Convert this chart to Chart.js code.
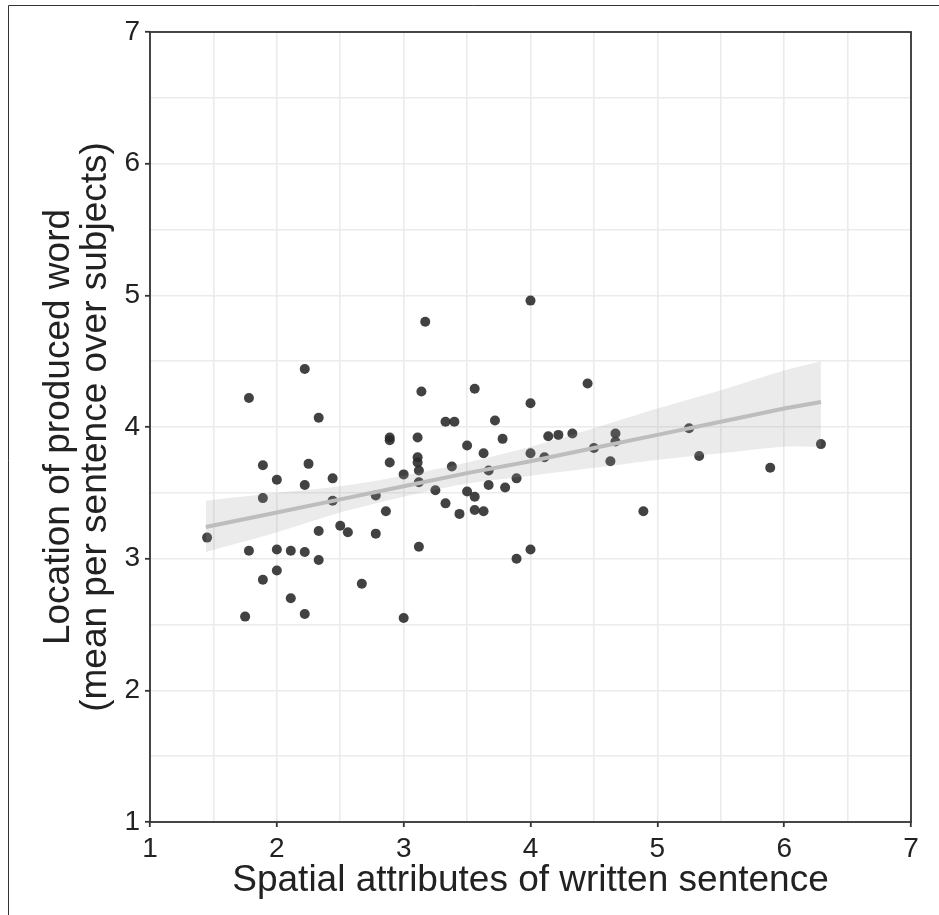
<!DOCTYPE html>
<html>
<head>
<meta charset="utf-8">
<title>Spatial attributes vs location of produced word</title>
<script src="https://cdn.jsdelivr.net/npm/chart.js@4/dist/chart.umd.min.js"></script>
<style>
  html, body { margin: 0; padding: 0; background: #fff; }
  canvas { display: block; }
</style>
</head>
<body>
<canvas id="scatterChart" width="939" height="915"></canvas>
<script>
var spatialX = [1.45, 1.75, 1.78, 1.78, 1.89, 1.89, 1.89, 2.00, 2.00, 2.00,
                2.11, 2.11, 2.22, 2.22, 2.22, 2.22, 2.25, 2.33, 2.33, 2.33,
                2.44, 2.44, 2.50, 2.56, 2.67, 2.78, 2.78, 2.86, 2.89, 2.89,
                2.89, 3.00, 3.00, 3.11, 3.11, 3.11, 3.12, 3.12, 3.12, 3.14,
                3.17, 3.25, 3.33, 3.33, 3.38, 3.40, 3.44, 3.50, 3.50, 3.56,
                3.56, 3.56, 3.63, 3.63, 3.67, 3.67, 3.72, 3.78, 3.80, 3.89,
                3.89, 4.00, 4.00, 4.00, 4.00, 4.11, 4.14, 4.22, 4.33, 4.45,
                4.50, 4.63, 4.67, 4.67, 4.89, 5.25, 5.33, 5.89, 6.29];
var locationY = [3.16, 2.56, 4.22, 3.06, 3.71, 3.46, 2.84, 3.60, 3.07, 2.91,
                 3.06, 2.70, 4.44, 3.56, 3.05, 2.58, 3.72, 4.07, 3.21, 2.99,
                 3.61, 3.44, 3.25, 3.20, 2.81, 3.48, 3.19, 3.36, 3.92, 3.90,
                 3.73, 3.64, 2.55, 3.92, 3.77, 3.73, 3.67, 3.58, 3.09, 4.27,
                 4.80, 3.52, 4.04, 3.42, 3.70, 4.04, 3.34, 3.86, 3.51, 4.29,
                 3.47, 3.37, 3.80, 3.36, 3.67, 3.56, 4.05, 3.91, 3.54, 3.61,
                 3.00, 4.96, 4.18, 3.80, 3.07, 3.77, 3.93, 3.94, 3.95, 4.33,
                 3.84, 3.74, 3.95, 3.89, 3.36, 3.99, 3.78, 3.69, 3.87];

// fitted line and confidence band
var fitX     = [1.44, 2.0, 2.5, 3.0, 3.5, 4.0, 4.5, 5.0, 5.5, 6.0, 6.29];
var fitY     = [3.24, 3.35, 3.45, 3.55, 3.65, 3.74, 3.84, 3.94, 4.04, 4.14, 4.19];
var bandHigh = [3.44, 3.50, 3.55, 3.63, 3.73, 3.85, 3.99, 4.14, 4.28, 4.43, 4.50];
var bandLow  = [3.05, 3.20, 3.35, 3.47, 3.57, 3.63, 3.69, 3.75, 3.80, 3.85, 3.85];

var axisMin = 1, axisMax = 7;
var xTitle = 'Spatial attributes of written sentence';
var yTitle = ['Location of produced word', '(mean per sentence over subjects)'];

function pairs(xs, ys) {
    return xs.map(function (x, i) { return { x: x, y: ys[i] }; });
}

var tickFont = { family: 'Liberation Sans, Arial, sans-serif', size: 28 };
var titleFont = { family: 'Liberation Sans, Arial, sans-serif', size: 37, lineHeight: 1.0 };

function isWhole(ctx) {
    return ctx.tick && Number.isInteger(ctx.tick.value);
}

function axisOptions(extra) {
    var o = {
        type: 'linear',
        min: axisMin,
        max: axisMax,
        ticks: {
            stepSize: 0.5,
            autoSkip: false,
            maxRotation: 0,
            minRotation: 0,
            color: '#222',
            font: tickFont,
            padding: 5,
            callback: function (v) { return Number.isInteger(v) ? String(v) : ''; }
        },
        grid: {
            color: '#ebebeb',
            lineWidth: 1.6,
            drawTicks: true,
            tickLength: 5,
            tickWidth: 1.8,
            tickColor: function (ctx) { return isWhole(ctx) ? '#333' : 'rgba(0,0,0,0)'; }
        },
        border: { display: false }
    };
    return Object.assign(o, extra);
}

// panel border + outer frame
var framePlugin = {
    id: 'frame',
    beforeDraw: function (chart) {
        var c = chart.ctx;
        c.save();
        c.fillStyle = '#fff';
        c.fillRect(0, 0, chart.width, chart.height);
        c.restore();
    },
    afterDraw: function (chart) {
        var c = chart.ctx, a = chart.chartArea;
        c.save();
        c.strokeStyle = '#333';
        c.lineWidth = 1.8;
        c.strokeRect(a.left, a.top, a.right - a.left, a.bottom - a.top);
        c.lineWidth = 1;
        c.beginPath();
        c.moveTo(8.5, chart.height);
        c.lineTo(8.5, 5.5);
        c.lineTo(chart.width, 5.5);
        c.stroke();
        c.restore();
    }
};

var ctx = document.getElementById('scatterChart').getContext('2d');
var chart = new Chart(ctx, {
    type: 'scatter',
    data: {
        datasets: [{
            label: 'sentences',
            data: pairs(spatialX, locationY),
            backgroundColor: 'rgba(40,40,40,0.88)',
            borderWidth: 0,
            pointRadius: 5,
            pointHoverRadius: 5,
            order: 3
        }, {
            type: 'line',
            label: 'band high',
            data: pairs(fitX, bandHigh),
            showLine: true,
            borderWidth: 0,
            borderColor: 'rgba(0,0,0,0)',
            pointRadius: 0,
            tension: 0.3,
            fill: '+1',
            backgroundColor: 'rgba(153,153,153,0.2)',
            order: 2
        }, {
            type: 'line',
            label: 'band low',
            data: pairs(fitX, bandLow),
            showLine: true,
            borderWidth: 0,
            borderColor: 'rgba(0,0,0,0)',
            pointRadius: 0,
            tension: 0.3,
            fill: false,
            order: 2
        }, {
            type: 'line',
            label: 'fit',
            data: pairs(fitX, fitY),
            showLine: true,
            borderColor: '#bdbdbd',
            borderWidth: 4,
            pointRadius: 0,
            fill: false,
            order: 1
        }]
    },
    options: {
        responsive: false,
        animation: false,
        devicePixelRatio: 1,
        layout: { padding: { left: 8, top: 32, right: 28, bottom: 0 } },
        plugins: {
            legend: { display: false },
            tooltip: { enabled: false }
        },
        scales: {
            x: axisOptions({
                position: 'bottom',
                title: {
                    display: true,
                    text: xTitle,
                    color: '#222',
                    font: titleFont,
                    padding: { top: 0, bottom: 16 }
                },
                afterFit: function (scale) { scale.height = 93; }
            }),
            y: axisOptions({
                position: 'left',
                title: {
                    display: true,
                    text: yTitle,
                    color: '#222',
                    font: titleFont,
                    padding: { top: 32, bottom: 0 }
                },
                afterFit: function (scale) { scale.width = 142; }
            })
        }
    },
    plugins: [framePlugin]
});
</script>
</body>
</html>
